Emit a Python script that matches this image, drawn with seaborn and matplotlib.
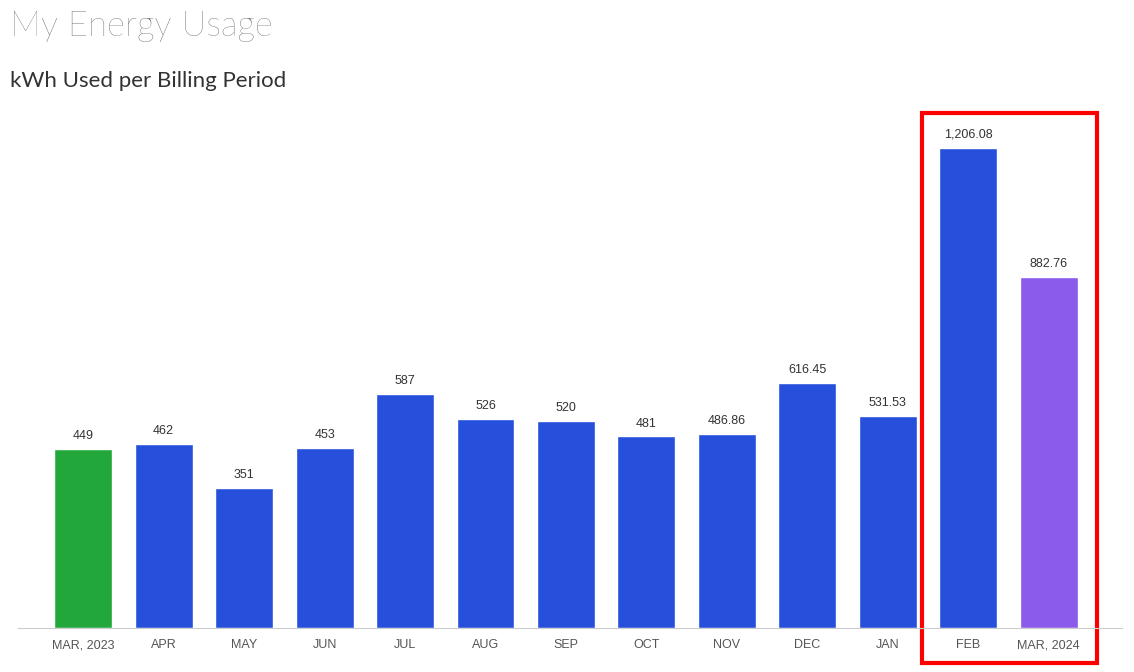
import matplotlib
matplotlib.use("Agg")
import matplotlib.pyplot as plt
import seaborn as sns
from matplotlib.patches import Rectangle

periods = ["MAR, 2023", "APR", "MAY", "JUN", "JUL", "AUG", "SEP", "OCT",
           "NOV", "DEC", "JAN", "FEB", "MAR, 2024"]
kwh = [449, 462, 351, 453, 587, 526, 520, 481, 486.86, 616.45, 531.53, 1206.08, 882.76]
value_labels = ["449", "462", "351", "453", "587", "526", "520", "481",
                "486.86", "616.45", "531.53", "1,206.08", "882.76"]
bar_colors = ["#22A83A"] + ["#264FDB"] * 11 + ["#8B5CEB"]

sns.set_style("white")
plt.rcParams['font.family'] = ['Liberation Sans', 'DejaVu Sans']

fig = plt.figure(figsize=(11.34, 6.72), dpi=100)
ax = fig.add_axes([18 / 1134, 1 - 628 / 672, 1104 / 1134, 518 / 672])

sns.barplot(x=periods, y=kwh, hue=periods, palette=bar_colors, legend=False,
            width=0.72, saturation=1, ax=ax)
for cont, lab in zip(ax.containers, value_labels):
    ax.bar_label(cont, labels=[lab], padding=5, fontsize=9, color="#333333")

ax.set_xlim(-0.81, 12.91)
ax.set_ylim(0, 1301)
ax.set_yticks([])
ax.set_ylabel("")
for s in ["top", "right", "left"]:
    ax.spines[s].set_visible(False)
ax.spines["bottom"].set_color("#cccccc")
ax.tick_params(axis="x", length=0, labelsize=9, labelcolor="#555555", pad=8)

# highlight box around the last two periods
ax.add_patch(Rectangle((10.42, -88), 2.18, 1382, fill=False, edgecolor="#FF0000",
                       linewidth=3, clip_on=False))

fig.text(10 / 1134, 1 - 26 / 672, "My Energy Usage", fontsize=25, color="#555555",
         fontweight="light", va="center", family=["Lato", "DejaVu Sans"])
fig.text(10 / 1134, 1 - 81 / 672, "kWh Used per Billing Period", fontsize=16,
         color="#333333", va="center", family=["Lato", "DejaVu Sans"])

fig.savefig("out.png", dpi=100)
